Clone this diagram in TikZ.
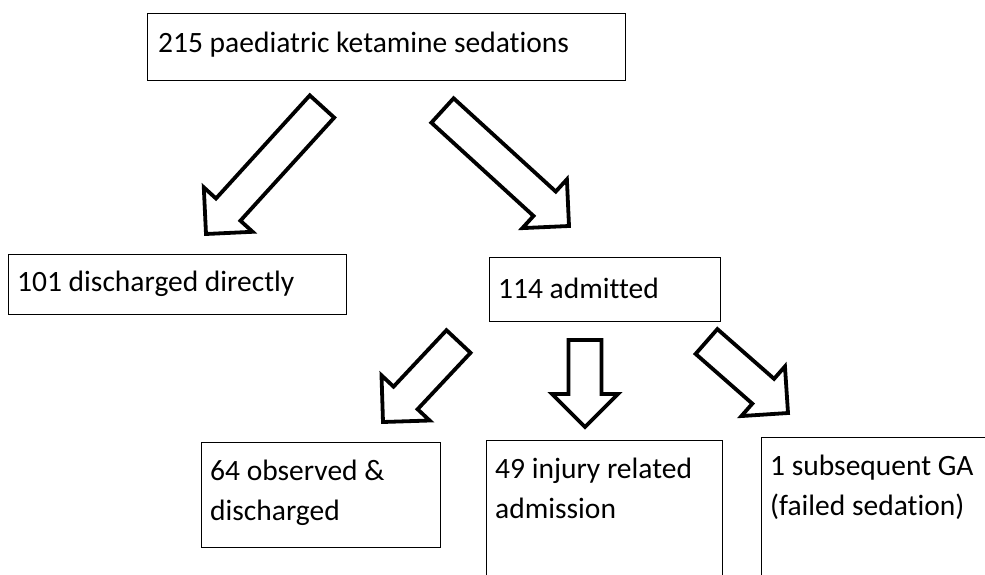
\documentclass[tikz,border=0pt]{standalone}
\usepackage{fontspec}
\setmainfont{Carlito}[Ligatures={NoCommon}]
\usetikzlibrary{calc}
\tikzset{
  box/.style={draw=black, line width=1.3pt, inner sep=0pt, anchor=north west, fill=none},
  lbl/.style={anchor=base west, inner sep=0pt, font=\fontsize{29.5}{40}\selectfont},
  blockarrow/.style={draw=black, line width=3.8pt, fill=white, line join=miter},
}
\newcommand{\blockarr}[2]{%
  \path coordinate (bb) at ($(#2)!33pt!(#1)$);
  \draw[blockarrow] ($(#1)!16.5pt!90:(#2)$) -- ($(bb)!16.5pt!90:(#2)$) -- ($(bb)!33pt!90:(#2)$) -- (#2)
    -- ($(bb)!33pt!-90:(#2)$) -- ($(bb)!16.5pt!-90:(#2)$) -- ($(#1)!16.5pt!-90:(#2)$) -- cycle;}
\begin{document}
\begin{tikzpicture}[x=1pt,y=-1pt]
\useasboundingbox (0,0) rectangle (985,575);
% boxes
\node[box, minimum width=478pt, minimum height=67pt] (top) at (147,13) {};
\node[box, minimum width=338pt, minimum height=60pt] (b101) at (8,254) {};
\node[box, minimum width=231pt, minimum height=64pt] (b114) at (489,257) {};
\node[box, minimum width=239pt, minimum height=105pt] (b64) at (201,442) {};
\node[box, minimum width=236pt, minimum height=160pt] (b49) at (486,440) {};
\node[box, minimum width=260pt, minimum height=160pt] (b1) at (761,437) {};
% texts
\node[lbl] (t215) at (158,53) {215 paediatric ketamine sedations};
\node[lbl] (t101) at (17,291) {101 discharged directly};
\node[lbl] (t114) at (498,298) {114 admitted};
\node[lbl] (t64a) at (210,480) {64 observed \&};
\node[lbl] (t64b) at (210,520) {discharged};
\node[lbl] (t49a) at (495,478) {49 injury related};
\node[lbl] (t49b) at (495,518) {admission};
\node[lbl] (t1a) at (770,475) {1 subsequent GA};
\node[lbl] (t1b) at (770,515) {(failed sedation)};
% arrow end points
\coordinate (a1s) at (322,106.5);
\coordinate (a1t) at (206,234);
\coordinate (a2s) at (442.5,110.5);
\coordinate (a2t) at (569,226);
\coordinate (a3s) at (458.5,341.5);
\coordinate (a3t) at (383,422);
\coordinate (a4s) at (585,340);
\coordinate (a4t) at (585,427);
\coordinate (a5s) at (706.5,341.5);
\coordinate (a5t) at (788,413);
\blockarr{a1s}{a1t}
\blockarr{a2s}{a2t}
\blockarr{a3s}{a3t}
\blockarr{a4s}{a4t}
\blockarr{a5s}{a5t}
\end{tikzpicture}
\end{document}
